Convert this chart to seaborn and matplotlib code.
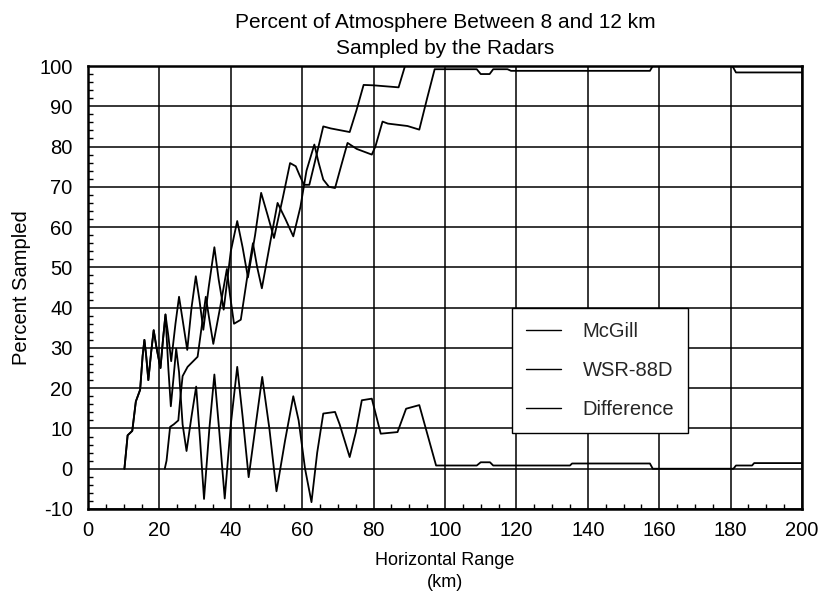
import numpy as np
import pandas as pd
import matplotlib
matplotlib.use("Agg")
import matplotlib.pyplot as plt
import seaborn as sns
from matplotlib.ticker import MultipleLocator

# ---------------- data ----------------
mcgill_km = [10.2, 11.1, 12.4, 13.4, 14.6, 15.3, 15.8, 16.3, 16.9, 17.7, 18.4, 19.2, 20.3,
             21.0, 21.7, 22.5, 23.3, 24.5, 25.5, 26.5, 27.8, 29.0, 30.2, 31.2, 32.3, 33.8,
             35.4, 36.6, 38.0, 40.0, 41.8, 43.3, 44.8, 46.8, 48.5, 50.3, 52.1, 54.5, 56.6,
             58.2, 59.2, 60.5, 62.0, 63.5, 65.9, 68.0, 73.3, 75.2, 77.2, 80.0, 87.0, 88.8, 200.0]
mcgill_pct = [0, 8.3, 9.4, 16.7, 19.6, 28, 32, 28, 22, 29, 34.4, 30, 25,
              32, 38.3, 33, 26.7, 36, 42.7, 37, 29.5, 40, 47.8, 42, 34.5, 45,
              55, 47, 39.5, 54, 61.5, 55, 47.5, 58, 68.5, 63, 57.3, 67, 75.9,
              75.1, 73, 70.5, 70.5, 76, 85, 84.5, 83.6, 89, 95.3, 95.2, 94.7, 100, 100]

wsr_km = [21.5, 22.0, 23.0, 24.0, 25.3, 25.8, 26.5, 27.9, 30.7, 31.8, 33.0, 34.0, 35.1,
          37.0, 38.9, 39.8, 40.9, 42.8, 44.5, 46.2, 47.4, 48.7, 51.0, 53.1, 55.3, 57.5,
          59.5, 61.2, 63.4, 64.6, 65.9, 67.5, 69.2, 71.0, 72.7, 75.3, 79.5, 80.5, 82.5,
          84.0, 89.5, 92.8, 95.0, 97.1, 108.9, 110.0, 112.5, 113.5, 117.5, 118.5, 157.4,
          158.2, 180.5, 181.5, 200.0]
wsr_pct = [0, 2, 10.4, 11, 12, 17, 23, 25.3, 27.8, 35, 42.7, 37, 31,
           40, 49.6, 43, 36, 37, 47, 56, 50, 44.8, 56, 66, 62, 57.7,
           65, 74, 80.5, 76, 71.8, 70, 69.7, 75.5, 80.9, 79.4, 78, 80, 86.2,
           85.7, 85.1, 84.2, 92, 99.2, 99.2, 98, 98, 99.2, 99.2, 98.8, 98.8,
           100, 100, 98.4, 98.4]

diff_km = [10.2, 11.1, 12.4, 13.4, 14.6, 15.3, 15.8, 16.3, 16.9, 17.7, 18.4, 19.2, 20.3,
           21.0, 21.7, 22.5, 23.2, 24.0, 24.7, 25.5, 26.5, 27.6, 29.0, 30.3, 31.4, 32.5,
           34.0, 35.4, 36.8, 38.3, 40.0, 41.8, 43.3, 45.0, 47.0, 48.8, 50.8, 52.8, 55.2,
           57.5, 59.0, 60.8, 62.6, 64.2, 65.9, 69.2, 70.5, 73.3, 75.0, 76.7, 79.5, 82.0,
           86.7, 89.1, 92.8, 97.5, 108.9, 110.0, 112.6, 113.5, 135.0, 135.6, 157.4, 158.2,
           180.8, 181.5, 186.0, 186.6, 200.0]
diff_pct = [0, 8.3, 9.4, 16.7, 19.6, 28, 32, 28, 22, 29, 34.4, 30, 25,
            32, 38.3, 25, 15.5, 23, 29.8, 24, 11, 4.4, 13, 20.4, 7, -7.5,
            10, 23.4, 9, -7.4, 11, 25.3, 13, -2.1, 11, 22.8, 10, -5.6, 7,
            18, 12, 0, -8.3, 4, 13.7, 14.1, 11, 2.9, 9, 17, 17.4, 8.7,
            9.1, 14.9, 15.8, 0.8, 0.8, 1.6, 1.6, 0.8, 0.8, 1.3, 1.3, 0,
            0, 0.8, 0.8, 1.4, 1.4]

series_names = ["McGill", "WSR-88D", "Difference"]
x_ticks = list(range(0, 201, 20))
y_ticks = list(range(-10, 101, 10))

# ---------------- build long table ----------------
df = pd.concat([
    pd.DataFrame({"km": mcgill_km, "pct": mcgill_pct, "series": series_names[0]}),
    pd.DataFrame({"km": wsr_km, "pct": wsr_pct, "series": series_names[1]}),
    pd.DataFrame({"km": diff_km, "pct": diff_pct, "series": series_names[2]}),
], ignore_index=True)

sns.set_theme(style="white")
plt.rcParams['font.family'] = ['Liberation Sans', 'DejaVu Sans']
plt.rcParams['axes.unicode_minus'] = False

W, H = 822, 596
fig = plt.figure(figsize=(W / 100, H / 100), dpi=100)
ax = fig.add_axes([88 / W, 1 - 509 / H, 714 / W, 443 / H])

sns.lineplot(data=df, x="km", y="pct", hue="series", hue_order=series_names,
             palette=["black"] * 3, estimator=None, sort=False,
             linewidth=1.3, ax=ax, zorder=3)

ax.set_xlim(0, 200)
ax.set_ylim(-10, 100)
ax.set_xticks(x_ticks)
ax.set_yticks(y_ticks)
ax.xaxis.set_minor_locator(MultipleLocator(5))
ax.yaxis.set_minor_locator(MultipleLocator(2))
ax.grid(True, which="major", color="black", linewidth=1.1, zorder=1)
ax.tick_params(axis="both", which="major", length=0, labelsize=14.5, colors="black")
ax.tick_params(axis="x", which="major", pad=9)
ax.tick_params(axis="y", which="major", pad=11)
ax.tick_params(axis="both", which="minor", direction="in", length=3.8, width=1.0,
               color="black", bottom=True, left=True, top=False, right=False)
for s in ax.spines.values():
    s.set_color("black")
    s.set_linewidth(1.8)
    s.set_visible(True)

ax.set_title("Percent of Atmosphere Between 8 and 12 km\nSampled by the Radars",
             fontsize=15, color="black", pad=9, linespacing=1.45)
ax.set_xlabel("Horizontal Range\n(km)", fontsize=13, color="black", linespacing=1.45, labelpad=8)
ax.set_ylabel("Percent Sampled", fontsize=14.5, color="black", labelpad=6)

leg = ax.legend(loc="upper left", bbox_to_anchor=(0.594, 0.4537), frameon=True,
                fancybox=False, edgecolor="black", framealpha=1, fontsize=14.5,
                handlelength=1.75, handletextpad=1.05, borderpad=0.7,
                labelspacing=1.0, borderaxespad=0)
leg.get_frame().set_linewidth(1.0)
for line in leg.get_lines():
    line.set_linewidth(1.0)

fig.savefig("out.png", dpi=100)
